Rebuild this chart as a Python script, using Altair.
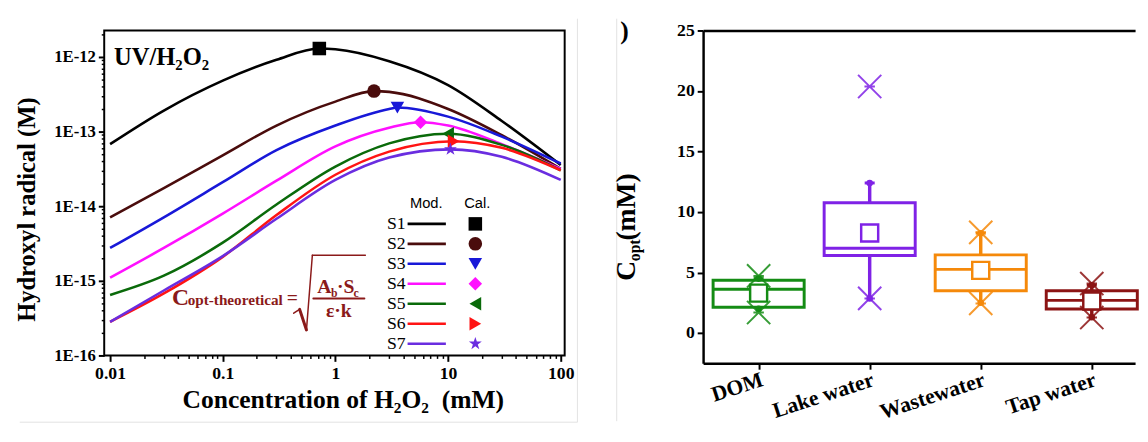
import math
import json
import altair as alt
import pandas as pd

SERIF = "Liberation Serif"
SANS = "Liberation Sans"

# ---------------- left panel data ----------------
SERIES = ["S1", "S2", "S3", "S4", "S5", "S6", "S7"]
CONC = [0.01, 0.03, 0.1, 0.3, 1, 3, 10, 30, 100]
S1_OH = [6.76e-14, 1.905e-13, 4.79e-13, 9.12e-13, 1.26e-12, 8.71e-13, 4.17e-13, 1.38e-13, 3.55e-14]
S2_OH = [7.08e-15, 1.74e-14, 4.79e-14, 1.20e-13, 2.51e-13, 3.39e-13, 2.0e-13, 8.91e-14, 3.16e-14]
S3_OH = [2.75e-15, 7.08e-15, 2.09e-14, 5.62e-14, 1.20e-13, 2.0e-13, 1.58e-13, 8.51e-14, 3.72e-14]
S4_OH = [1.10e-15, 2.75e-15, 7.94e-15, 2.19e-14, 6.31e-14, 1.12e-13, 1.20e-13, 6.76e-14, 3.16e-14]
S5_OH = [6.46e-16, 1.17e-15, 3.24e-15, 1.05e-14, 3.39e-14, 6.92e-14, 9.33e-14, 6.61e-14, 3.02e-14]
S6_OH = [2.82e-16, 6.76e-16, 2.09e-15, 7.59e-15, 2.63e-14, 5.37e-14, 7.2e-14, 6.03e-14, 3.02e-14]
S7_OH = [2.82e-16, 7.41e-16, 2.14e-15, 6.76e-15, 2.24e-14, 4.47e-14, 5.7e-14, 4.57e-14, 2.24e-14]
PEAK_CONC = [0.72, 2.2, 3.55, 5.7, 10, 11.2, 10.5]
PEAK_OH = [1.29e-12, 3.47e-13, 2.09e-13, 1.33e-13, 9.33e-14, 7.41e-14, 5.75e-14]
COLORS = ["#000000", "#4a0c0c", "#1818d8", "#ff10ff", "#0a6a0a", "#ff1414", "#6a2de0"]
STAR = ("M0,-1L0.2245,-0.309L0.9511,-0.309L0.3633,0.118L0.5878,0.809L0,0.382"
        "L-0.5878,0.809L-0.3633,0.118L-0.9511,-0.309L-0.2245,-0.309Z")
SHAPES = ["square", "circle", "triangle-down", "diamond", "triangle-left", "triangle-right", STAR]
X_MAJOR = [0.01, 0.1, 1, 10, 100]
Y_MAJOR = [1e-16, 1e-15, 1e-14, 1e-13, 1e-12]

# ---------------- right panel data ----------------
CATS = ["DOM", "Lake water", "Wastewater", "Tap water"]
CAT_COLORS = ["#148c14", "#7f22e6", "#f5890a", "#8c1414"]
Q1 = [2.13, 6.41, 3.49, 1.99]
MEDIAN = [3.62, 7.0, 5.26, 2.7]
Q3 = [4.37, 10.77, 6.46, 3.49]
MEAN = [3.3, 8.26, 5.18, 2.64]
WHISK_LO = [2.0, 2.86, 2.5, 1.3]
WHISK_HI = [4.5, 12.4, 8.25, 3.95]
X_LO = [1.7, 2.86, 2.45, 1.28]
X_HI = [4.72, 20.37, 8.32, 4.09]
Y_TICKS_R = [0, 5, 10, 15, 20, 25]

# ---------------- build tables ----------------
all_oh = [S1_OH, S2_OH, S3_OH, S4_OH, S5_OH, S6_OH, S7_OH]
rows = []
for s, ys, px, py in zip(SERIES, all_oh, PEAK_CONC, PEAK_OH):
    pts = [(c, v) for c, v in zip(CONC, ys) if abs(math.log10(c) - math.log10(px)) > 0.06]
    pts.append((px, py))
    pts.sort()
    for c, v in pts:
        rows.append({"series": s, "conc": c, "oh": v})
curves = pd.DataFrame(rows)
peaks = pd.DataFrame({"series": SERIES, "conc": PEAK_CONC, "oh": PEAK_OH})
legend_df = pd.DataFrame({"series": SERIES, "row": list(range(len(SERIES)))})

x_minor = [k * 10.0 ** n for n in range(-2, 2) for k in range(2, 10)]
y_minor = [k * 10.0 ** n for n in range(-16, -12) for k in range(2, 10)] + [2e-12]

XS = alt.Scale(type="log", domain=[0.00887, 108.4], nice=False)
YS = alt.Scale(type="log", domain=[1e-16, 2.25e-12], nice=False)
color_scale = alt.Scale(domain=SERIES, range=COLORS)
shape_scale = alt.Scale(domain=SERIES, range=SHAPES)

x_axis_major = alt.Axis(values=X_MAJOR, labelExpr="format(datum.value, '~g')",
                        title="Concentration of H\u2082O\u2082\u00a0\u00a0(mM)", tickSize=6,
                        tickWidth=2, labelFontSize=18, titleFontSize=26, labelPadding=3,
                        titlePadding=5, titleX=243, domain=False, labelFlush=False,
                        labelOverlap=False)
y_axis_major = alt.Axis(values=Y_MAJOR, labelExpr="'1E' + round(log(datum.value) / LN10)",
                        title="Hydroxyl radical (M)", tickSize=6, tickWidth=2,
                        labelFontSize=17, titleFontSize=25, labelPadding=3, titlePadding=14,
                        titleY=182, domain=False, labelFlush=False, labelOverlap=False)
x_axis_minor = alt.Axis(values=x_minor, labels=False, tickSize=3, tickWidth=1.5, title=None,
                        domain=False, orient="bottom")
y_axis_minor = alt.Axis(values=y_minor, labels=False, tickSize=3, tickWidth=1.5, title=None,
                        domain=False, orient="left")

lines = alt.Chart(curves).mark_line(interpolate="monotone", strokeWidth=2.6).encode(
    x=alt.X("conc:Q", scale=XS, axis=x_axis_major),
    y=alt.Y("oh:Q", scale=YS, axis=y_axis_major),
    color=alt.Color("series:N", scale=color_scale, legend=None),
    order="conc:Q",
)
peak_pts = alt.Chart(peaks).mark_point(filled=True, opacity=1, size=190).encode(
    x=alt.X("conc:Q", scale=XS, axis=x_axis_minor),
    y=alt.Y("oh:Q", scale=YS, axis=y_axis_minor),
    color=alt.Color("series:N", scale=color_scale, legend=None),
    shape=alt.Shape("series:N", scale=shape_scale, legend=None),
)
main = alt.layer(lines, peak_pts).resolve_axis(x="independent", y="independent")

row_y = alt.Y("row:Q", scale=alt.Scale(domain=[0, 6], range=[197, 319]), axis=None)
leg_text = alt.Chart(legend_df).mark_text(align="right", baseline="middle", font=SERIF,
                                          fontSize=18).encode(
    x=alt.value(307), y=row_y, text="series:N")
leg_rule = alt.Chart(legend_df).mark_rule(strokeWidth=2.6).encode(
    x=alt.value(309), x2=alt.value(348), y=row_y,
    color=alt.Color("series:N", scale=color_scale, legend=None))
leg_pts = alt.Chart(legend_df).mark_point(filled=True, opacity=1, size=190).encode(
    x=alt.value(378), y=row_y,
    color=alt.Color("series:N", scale=color_scale, legend=None),
    shape=alt.Shape("series:N", scale=shape_scale, legend=None))
legend = alt.layer(leg_text, leg_rule, leg_pts)


def txt(s, x, y, size, color="black", weight="bold", align="left", baseline="alphabetic",
        font=SERIF, angle=0):
    return alt.Chart(pd.DataFrame({"t": [s]})).mark_text(
        align=align, baseline=baseline, fontSize=size, fontWeight=weight, font=font,
        color=color, angle=angle).encode(x=alt.value(x), y=alt.value(y), text="t:N")


def seg(x1, y1, x2, y2, w, color, cap="round"):
    return alt.Chart(pd.DataFrame({"a": [0]})).mark_rule(strokeWidth=w, color=color,
                                                         strokeCap=cap).encode(
        x=alt.value(x1), y=alt.value(y1), x2=alt.value(x2), y2=alt.value(y2))


RED = "#8b1a1a"
FRAME_GRAY = "#e2e2e2"
annotations = [
    seg(482, -12, 482, 399, 1, FRAME_GRAY, "butt"),
    seg(-86, 399, 482, 399, 1, FRAME_GRAY, "butt"),
    txt("Mod.", 328, 176, 15, weight="normal", align="center", baseline="middle", font=SANS),
    txt("Cal.", 380, 176, 15, weight="normal", align="center", baseline="middle", font=SANS),
    txt("UV/H\u2082O\u2082", 10, 27, 25, baseline="middle"),
    txt("C", 69, 280, 24, RED),
    txt("opt-theoretical", 85, 280, 15.5, RED),
    txt("=", 186, 279, 20, RED),
    seg(193, 288, 199, 284, 1.5, RED),
    seg(199, 284, 206, 305, 3, RED),
    seg(206, 305, 212, 229, 1.5, RED),
    seg(212, 229, 266, 229, 1.5, RED),
    seg(213, 273, 265, 273, 2, RED),
    txt("A", 217, 267, 20, RED),
    txt("b", 231, 271, 12, RED),
    txt("\u00b7S", 237, 267, 20, RED),
    txt("c", 254, 271, 12, RED),
    txt("\u03b5\u00b7k", 239, 292, 20, RED, align="center"),
]

left = alt.layer(main, legend, *annotations).resolve_scale(y="independent").properties(
    width=469, height=331, view=alt.ViewBackground(stroke="black", strokeWidth=2))

# ---------------- right panel ----------------
box_df = pd.DataFrame({"cat": CATS, "idx": list(range(len(CATS))), "q1": Q1, "med": MEDIAN,
                       "q3": Q3, "mean": MEAN, "wlo": WHISK_LO, "whi": WHISK_HI})
x_df = pd.DataFrame({"cat": CATS * 2, "idx": list(range(len(CATS))) * 2, "val": X_LO + X_HI})

XR = alt.Scale(domain=[-0.5, 3.39], nice=False, zero=False)
YR = alt.Scale(domain=[-2.5, 25], nice=False, zero=False)
cat_color = alt.Scale(domain=CATS, range=CAT_COLORS)
label_expr = json.dumps(CATS) + "[datum.value]"
x_axis_r = alt.Axis(values=list(range(len(CATS))), labelExpr=label_expr, labelAngle=-18,
                    labelAlign="right", labelBaseline="top", labelFontSize=22, tickSize=6,
                    tickWidth=2, title=None, labelPadding=0, domainWidth=2.5,
                    labelOverlap=False, labelFlush=False, orient="bottom")
y_axis_r = alt.Axis(values=Y_TICKS_R, labelFontSize=18, tickSize=6, tickWidth=2, title=None,
                    labelPadding=3, domainWidth=2.5, labelFlush=False, labelOverlap=False,
                    orient="left")
top_axis = alt.Axis(orient="top", labels=False, ticks=False, title=None, domainWidth=2.5)

base = alt.Chart(box_df).transform_calculate(
    lo="datum.idx - 0.41", hi="datum.idx + 0.41",
    cl="datum.idx - 0.045", cr="datum.idx + 0.045")
stroke_enc = alt.Stroke("cat:N", scale=cat_color, legend=None)
color_enc = alt.Color("cat:N", scale=cat_color, legend=None)

axes_layer = base.mark_point(opacity=0).encode(
    x=alt.X("idx:Q", scale=XR, axis=x_axis_r), y=alt.Y("med:Q", scale=YR, axis=y_axis_r))
top_border = base.mark_point(opacity=0).encode(
    x=alt.X("idx:Q", scale=XR, axis=top_axis), y=alt.Y("med:Q", scale=YR, axis=None))
boxes = base.mark_rect(fillOpacity=0, strokeWidth=3).encode(
    x=alt.X("lo:Q", scale=XR, axis=None), x2="hi:Q",
    y=alt.Y("q1:Q", scale=YR, axis=None), y2="q3:Q", stroke=stroke_enc)
wh_hi = base.mark_rule(strokeWidth=3.5).encode(
    x=alt.X("idx:Q", scale=XR, axis=None), y=alt.Y("q3:Q", scale=YR, axis=None), y2="whi:Q",
    color=color_enc)
wh_lo = base.mark_rule(strokeWidth=3.5).encode(
    x=alt.X("idx:Q", scale=XR, axis=None), y=alt.Y("wlo:Q", scale=YR, axis=None), y2="q1:Q",
    color=color_enc)
caps = base.mark_rule(strokeWidth=3).encode(
    x=alt.X("cl:Q", scale=XR, axis=None), x2="cr:Q", y=alt.Y("whi:Q", scale=YR, axis=None),
    color=color_enc)
medians = base.mark_rule(strokeWidth=3).encode(
    x=alt.X("lo:Q", scale=XR, axis=None), x2="hi:Q", y=alt.Y("med:Q", scale=YR, axis=None),
    color=color_enc)
XPATH = "M-1,-1L1,1M-1,1L1,-1M-0.45,0L0.45,0"
xmarks = alt.Chart(x_df).mark_point(shape=XPATH, size=560, strokeWidth=2, filled=False,
                                    opacity=0.85).encode(
    x=alt.X("idx:Q", scale=XR, axis=None), y=alt.Y("val:Q", scale=YR, axis=None),
    color=color_enc)
dots_hi = base.mark_circle(size=45, opacity=1).encode(
    x=alt.X("idx:Q", scale=XR, axis=None), y=alt.Y("whi:Q", scale=YR, axis=None),
    color=color_enc)
dots_lo = base.mark_circle(size=45, opacity=1).encode(
    x=alt.X("idx:Q", scale=XR, axis=None), y=alt.Y("wlo:Q", scale=YR, axis=None),
    color=color_enc)
means = base.mark_square(fill="white", fillOpacity=1, strokeWidth=2.5, size=300,
                         opacity=1).encode(
    x=alt.X("idx:Q", scale=XR, axis=None), y=alt.Y("mean:Q", scale=YR, axis=None),
    stroke=stroke_enc)

right_text = [
    seg(-88, -12, -88, 398, 1, FRAME_GRAY, "butt"),
    txt(")", -80, -12, 26, baseline="top", align="center"),
    txt("C", -69, 255, 28, angle=270),
    txt("opt", -64, 235, 16, angle=270),
    txt("\u00a0(mM)", -69, 214, 28, angle=270),
]

right = alt.layer(axes_layer, top_border, wh_hi, wh_lo, boxes, caps, medians, xmarks, dots_hi,
                  dots_lo, means, *right_text).resolve_axis(
    x="independent", y="independent").properties(
    width=440, height=339, view=alt.ViewBackground(stroke="transparent"))

chart = alt.hconcat(left, right, spacing=141, bounds="flush").resolve_scale(
    color="independent", stroke="independent", shape="independent"
).properties(
    padding={"left": 6, "top": 5, "right": 0, "bottom": 0}
).configure_axis(
    labelFont=SERIF, titleFont=SERIF, labelFontWeight="bold", titleFontWeight="bold",
    labelColor="black", titleColor="black", domainColor="black", tickColor="black",
    grid=False,
).configure_view(stroke="black", strokeWidth=2)

chart.save("out.html", embed_options={"renderer": "svg", "actions": False})
